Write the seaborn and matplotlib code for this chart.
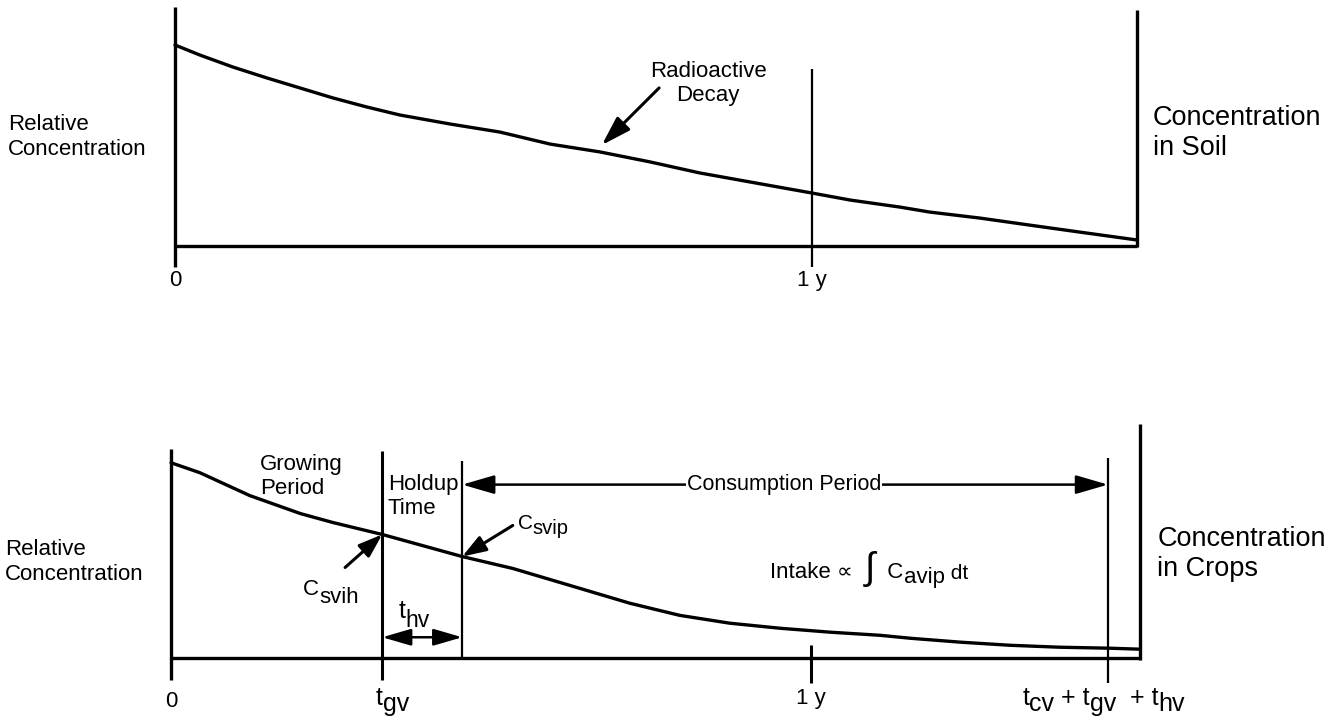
import matplotlib
matplotlib.use("Agg")
import matplotlib.pyplot as plt
import seaborn as sns
import pandas as pd

# ---------------- data (time in years, relative concentration) ----------------
soil_t = [0.0, 0.039, 0.091, 0.144, 0.196, 0.248, 0.301, 0.353, 0.432, 0.510,
          0.589, 0.667, 0.746, 0.824, 0.903, 1.0, 1.060, 1.138, 1.185, 1.264,
          1.342, 1.421, 1.510]
soil_c = [1.0, 0.950, 0.890, 0.836, 0.786, 0.736, 0.691, 0.651, 0.606, 0.566,
          0.506, 0.467, 0.417, 0.362, 0.317, 0.262, 0.227, 0.192, 0.167, 0.137,
          0.102, 0.067, 0.028]
crop_t = [0.0, 0.045, 0.123, 0.202, 0.253, 0.330, 0.455, 0.534, 0.639, 0.717,
          0.795, 0.873, 0.952, 1.030, 1.108, 1.155, 1.233, 1.311, 1.389, 1.467,
          1.514]
crop_c = [1.0, 0.949, 0.832, 0.740, 0.694, 0.633, 0.520, 0.459, 0.357, 0.281,
          0.219, 0.179, 0.153, 0.133, 0.117, 0.102, 0.082, 0.066, 0.056, 0.051,
          0.046]
# event times: start, 1 y, end of frame
soil_marks = [0.0, 1.0, 1.51]
# start, t_gv, t_gv + t_hv, 1 y, t_cv + t_gv + t_hv, end of frame
crop_marks = [0.0, 0.330, 0.455, 1.0, 1.464, 1.514]
soil_tick_labels = ["0", "1 y"]
crop_tick_labels = ["0", "1 y"]

sns.set_theme(style="white")
plt.rcParams["font.family"] = ["Liberation Sans", "DejaVu Sans"]

K = "black"
fig = plt.figure(figsize=(13.38, 7.21), dpi=100)
fig.patch.set_facecolor("white")
ax1 = fig.add_axes([0, 0.5007, 1, 0.4993])
ax2 = fig.add_axes([0, 0, 1, 0.4993])
for ax in (ax1, ax2):
    ax.set_axis_off()


def rich(ax, x, y, parts):
    """parts: (text, fontsize, drop in points relative to previous piece)"""
    txt, size, _ = parts[0]
    prev = ax.text(x, y, txt, fontsize=size, ha="left", va="baseline", color=K)
    for txt, size, drop in parts[1:]:
        prev = ax.annotate(txt, xy=(1, 0), xycoords=prev, xytext=(0, -drop),
                           textcoords="offset points", ha="left", va="bottom",
                           fontsize=size, color=K)
    return prev


def arrow(ax, tip, tail, style="-|>", hl=0.9, hw=0.28, ms=20, lw=2.2):
    ax.annotate("", xy=tip, xytext=tail,
                arrowprops=dict(arrowstyle=f"{style},head_length={hl},head_width={hw}",
                                mutation_scale=ms, lw=lw, color=K,
                                shrinkA=0, shrinkB=0))


line_kw = dict(color=K, lw=2.4, sort=False, estimator=None,
               solid_joinstyle="round", solid_capstyle="round")

# ---------------- top panel: concentration in soil ----------------
soil = pd.DataFrame({"t": soil_t, "c": soil_c})
sns.lineplot(data=soil, x="t", y="c", ax=ax1, **line_kw)
ax1.hlines(0, soil_marks[0], soil_marks[-1], color=K, lw=2.4)
ax1.vlines(soil_marks[0], -0.107, 1.189, color=K, lw=2.4)
ax1.vlines(soil_marks[1], -0.107, 0.880, color=K, lw=1.6)
ax1.vlines(soil_marks[2], -0.007, 1.175, color=K, lw=2.4)
for t, lab in zip(soil_marks[:2], soil_tick_labels):
    ax1.text(t, -0.175, lab, fontsize=16, ha="center", va="center", color=K)

ax1.text(-0.262, 0.541, "Relative\nConcentration", fontsize=16, ha="left",
         va="center", linespacing=1.25, color=K)
ax1.text(1.535, 0.561, "Concentration\nin Soil", fontsize=19.5, ha="left",
         va="center", linespacing=1.2, color=K)
ax1.text(0.837, 0.808, "Radioactive\nDecay", fontsize=16, ha="center",
         va="center", linespacing=1.2, color=K)
arrow(ax1, (0.670, 0.501), (0.760, 0.786))

ax1.set_xlim(-0.2747, 1.8257)
ax1.set_ylim(-0.5703, 1.2243)

# ---------------- bottom panel: concentration in crops ----------------
crop = pd.DataFrame({"t": crop_t, "c": crop_c})
sns.lineplot(data=crop, x="t", y="c", ax=ax2, **line_kw)
ax2.hlines(0, crop_marks[0], crop_marks[-1], color=K, lw=2.4)
ax2.vlines(crop_marks[0], -0.112, 1.071, color=K, lw=2.4)
ax2.vlines(crop_marks[1], -0.112, 1.061, color=K, lw=2.2)
ax2.vlines(crop_marks[2], 0.0, 1.010, color=K, lw=1.6)
ax2.vlines(crop_marks[3], -0.128, 0.066, color=K, lw=2.2)
ax2.vlines(crop_marks[4], -0.128, 1.026, color=K, lw=1.6)
ax2.vlines(crop_marks[5], -0.010, 1.199, color=K, lw=2.4)

ax2.text(crop_marks[0], -0.224, crop_tick_labels[0], fontsize=16,
         ha="center", va="center", color=K)
ax2.text(crop_marks[3], -0.204, crop_tick_labels[1], fontsize=16,
         ha="center", va="center", color=K)
rich(ax2, 0.320, -0.240, [("t", 18, 0), ("gv", 18, 4.3)])
rich(ax2, 1.330, -0.240, [("t", 18, 0), ("cv", 18, 4.3), (" + t", 18, -4.3),
                          ("gv", 18, 4.3), ("  + t", 18, -4.3), ("hv", 18, 4.3)])

ax2.text(-0.259, 0.490, "Relative\nConcentration", fontsize=16, ha="left",
         va="center", linespacing=1.25, color=K)
ax2.text(1.541, 0.531, "Concentration\nin Crops", fontsize=19.5, ha="left",
         va="center", linespacing=1.2, color=K)
ax2.text(0.139, 0.929, "Growing\nPeriod", fontsize=16, ha="left",
         va="center", linespacing=1.15, color=K)
ax2.text(0.339, 0.827, "Holdup\nTime", fontsize=16, ha="left",
         va="center", linespacing=1.15, color=K)

# consumption period double arrow with label
arrow(ax2, (crop_marks[2], 0.888), (crop_marks[4], 0.888), style="<|-|>",
      hl=1.1, hw=0.32, ms=18, lw=1.8)
ax2.text(0.958, 0.888, "Consumption Period", fontsize=15.5, ha="center",
         va="center", color=K,
         bbox=dict(boxstyle="square,pad=0.05", fc="white", ec="none"))

# holdup time double arrow
arrow(ax2, (crop_marks[1], 0.107), (crop_marks[2], 0.107), style="<|-|>",
      hl=1.1, hw=0.32, ms=16, lw=1.8)
rich(ax2, 0.355, 0.204, [("t", 18, 0), ("hv", 16.5, 6.5)])

# C_svih and C_svip pointers
arrow(ax2, (0.330, 0.633), (0.272, 0.464), hl=0.8, hw=0.28, ms=18)
rich(ax2, 0.206, 0.321, [("C", 16, 0), ("svih", 16, 5.5)])
arrow(ax2, (0.455, 0.520), (0.534, 0.679), hl=0.8, hw=0.28, ms=18)
rich(ax2, 0.542, 0.663, [("C", 15, 0), ("svip", 14.5, 3.6)])

# intake formula
rich(ax2, 0.936, 0.408, [("Intake \u221d  ", 16, 0), ("\u222b", 27, 2.5),
                         ("  C", 16, -2.5), ("avip", 16, 3.6),
                         (" dt", 15, -3.6)])

ax2.set_xlim(-0.2672, 1.8234)
ax2.set_ylim(-0.3214, 1.5204)

fig.savefig("out.png", dpi=100, facecolor="white")
